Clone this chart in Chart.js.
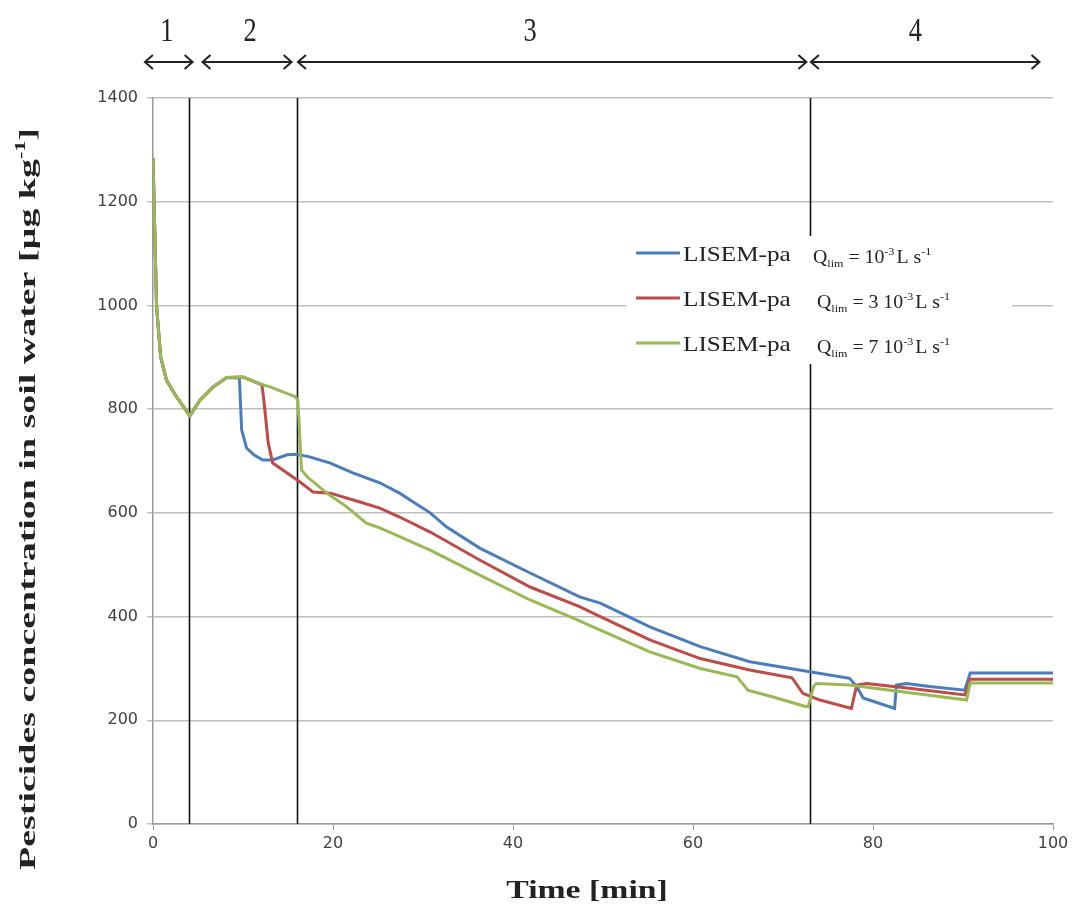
<!DOCTYPE html>
<html>
<head>
<meta charset="utf-8">
<script src="https://cdn.jsdelivr.net/npm/chart.js@4.4.1/dist/chart.umd.min.js"></script>
<style>
html,body{margin:0;padding:0;background:#fff}
#c{display:block}
</style>
</head>
<body>
<canvas id="c" width="1074" height="913"></canvas>
<script>
// shared start of all three runs (curves overlap until ~9 min)
const startTime = [0, 0.2, 0.4, 0.85, 1.5, 2.6, 4.1, 5.2, 6.7, 8.2];
const startConc = [1284, 1140, 997, 901, 856, 824, 787, 817, 843, 861];

// Qlim = 1e-3 L/s
const timeQ1 = [9.6, 9.75, 9.85, 10.4, 11.2, 12.2, 13.3, 14.9, 16, 17.4, 19.7, 22.2, 25.2, 27.4, 29, 30.8, 32.6, 36.3, 41.9, 47.4, 49.7, 55.2, 60.8, 66.3, 72.8, 77.4, 78.2, 78.9, 82.4, 82.6, 83.7, 86.3, 90.2, 90.8, 100];
const concQ1 = [860, 800, 760, 725, 712, 702, 702, 712, 713, 708, 696, 677, 658, 638, 620, 600, 573, 532, 484, 438, 426, 380, 342, 313, 294, 281, 265, 243, 223, 268, 271, 265, 258, 291, 291];

// Qlim = 3e-3 L/s
const timeQ3 = [10, 12.1, 12.3, 12.8, 13.3, 14.9, 16.3, 17.8, 19.7, 23, 25.2, 27.4, 30.8, 36.3, 41.9, 47.4, 49.7, 55.2, 60.8, 66.3, 71, 72.2, 74.1, 77.6, 78.2, 79.3, 84.5, 90.2, 90.8, 100];
const concQ3 = [862, 847, 820, 735, 696, 677, 660, 640, 638, 621, 609, 592, 563, 509, 457, 419, 400, 355, 319, 297, 282, 252, 239, 223, 268, 271, 261, 249, 279, 279];

// Qlim = 7e-3 L/s
const timeQ7 = [10, 12.2, 13, 15.8, 16.1, 16.5, 17.1, 19.3, 21.5, 23.7, 25.2, 27.4, 30.8, 36.3, 41.9, 46.7, 49.7, 55.2, 60.8, 64.9, 66.1, 68.9, 72.4, 72.8, 73.4, 73.7, 77.4, 84.5, 90.4, 90.8, 100];
const concQ7 = [862, 847, 843, 824, 817, 683, 670, 638, 612, 580, 571, 554, 528, 480, 432, 397, 374, 332, 300, 284, 258, 245, 227, 226, 265, 271, 268, 252, 239, 272, 272];

// phases
const phaseBounds = [4, 16, 73];
const phaseLabels = ['1', '2', '3', '4'];
const phaseLabelAt = [1.55, 10.8, 41.9, 84.7];
const arrowFrom = [-0.9, 5.5, 16.1, 73.1];
const arrowTo = [4.4, 15.4, 72.6, 98.5];

const seriesName = 'LISEM-pa';
const qCoef = ['', '3 ', '7 '];

const BLUE = '#4a7ebb', RED = '#be4b48', GREEN = '#98b954';

function pts(t, v){ return startTime.concat(t).map((x, i)=>({x, y: startConc.concat(v)[i]})) }

function stretchText(ctx, txt, x, y, sx, align){
  ctx.save(); ctx.translate(x, y); ctx.scale(sx, 1);
  ctx.textAlign = align || 'left'; ctx.fillText(txt, 0, 0);
  ctx.restore();
}

const decor = {
  id: 'decor',
  beforeDatasetsDraw(chart){
    const {ctx, chartArea: a, scales: {x}} = chart;
    ctx.save();
    ctx.strokeStyle = '#111'; ctx.lineWidth = 1.6;
    phaseBounds.forEach(b=>{
      const px = Math.round(x.getPixelForValue(b)) + 0.5;
      ctx.beginPath(); ctx.moveTo(px, a.top); ctx.lineTo(px, a.bottom); ctx.stroke();
    });
    ctx.restore();
  },
  afterDatasetsDraw(chart){
    const {ctx, chartArea: a} = chart;
    const cols = [BLUE, RED, GREEN];
    const L = a.left + 473, T = a.top + 138;
    ctx.save();
    ctx.fillStyle = '#fff';
    ctx.fillRect(L, T, 386, 128);
    const rows = [T + 17, T + 62, T + 107];
    rows.forEach((ry, i)=>{
      ctx.strokeStyle = cols[i]; ctx.lineWidth = 3;
      ctx.beginPath(); ctx.moveTo(L + 10, ry); ctx.lineTo(L + 54, ry); ctx.stroke();
      ctx.fillStyle = '#222';
      ctx.font = '21px "Liberation Serif"'; ctx.textBaseline = 'alphabetic';
      stretchText(ctx, seriesName, L + 57, ry + 8, 1.2);
      // Q_lim = c 10^-3 L s^-1
      const sx = 1.1;
      let cx = L + 187 + (i ? 4 : 0);
      const base = ry + 10;
      const parts = [
        ['Q', 18, 0], ['lim', 11, 4], [' = ' + qCoef[i] + '10', 18, 0],
        ['-3', 11, -8], ['L s', 18, 0], ['-1', 11, -8]
      ];
      parts.forEach(([t, fs, dy])=>{
        ctx.font = fs + 'px "Liberation Serif"';
        stretchText(ctx, t, cx, base + dy, sx);
        cx += ctx.measureText(t).width * sx + (t === '-3' ? 2 : 0);
      });
    });
    ctx.restore();
  },
  afterDraw(chart){
    const {ctx, scales: {x}} = chart;
    ctx.save();
    // phase arrows
    ctx.strokeStyle = '#222'; ctx.lineWidth = 2;
    const ay = 62;
    arrowFrom.forEach((f, i)=>{
      const x1 = x.getPixelForValue(f), x2 = x.getPixelForValue(arrowTo[i]);
      ctx.beginPath();
      ctx.moveTo(x1, ay); ctx.lineTo(x2, ay);
      ctx.moveTo(x1 + 8, ay - 7); ctx.lineTo(x1, ay); ctx.lineTo(x1 + 8, ay + 7);
      ctx.moveTo(x2 - 8, ay - 7); ctx.lineTo(x2, ay); ctx.lineTo(x2 - 8, ay + 7);
      ctx.stroke();
    });
    ctx.fillStyle = '#222';
    ctx.font = '33px "Liberation Serif"'; ctx.textBaseline = 'alphabetic';
    phaseLabels.forEach((l, i)=>{
      stretchText(ctx, l, x.getPixelForValue(phaseLabelAt[i]), 41, 0.8, 'center');
    });
    // axis titles
    ctx.font = 'bold 24px "Liberation Serif"';
    const main = 'Pesticides concentration in soil water [\u00b5g kg';
    const tail = ']';
    ctx.save();
    ctx.translate(35, 499); ctx.rotate(-Math.PI/2);
    const wMain = ctx.measureText(main).width, wTail = ctx.measureText(tail).width;
    ctx.font = 'bold 14px "Liberation Serif"';
    const wSup = ctx.measureText('-1').width;
    const total = wMain + wSup + wTail;
    const k = 742 / total;
    ctx.scale(k, 1);
    let px = -total / 2;
    ctx.font = 'bold 24px "Liberation Serif"'; ctx.textAlign = 'left';
    ctx.fillText(main, px, 0); px += wMain;
    ctx.font = 'bold 14px "Liberation Serif"';
    ctx.fillText('-1', px, -10); px += wSup;
    ctx.font = 'bold 24px "Liberation Serif"';
    ctx.fillText(tail, px, 0);
    ctx.restore();
    ctx.font = 'bold 25px "Liberation Serif"';
    stretchText(ctx, 'Time [min]', 587, 898, 1.35, 'center');
    ctx.restore();
  }
};

const tickFont = {family: '"DejaVu Sans"', size: 16};

new Chart(document.getElementById('c'), {
  type: 'line',
  data: {
    datasets: [
      {label: 'Qlim 7', data: pts(timeQ7, concQ7), borderColor: GREEN, order: 0},
      {label: 'Qlim 3', data: pts(timeQ3, concQ3), borderColor: RED, order: 1},
      {label: 'Qlim 1', data: pts(timeQ1, concQ1), borderColor: BLUE, order: 2}
    ]
  },
  options: {
    responsive: false,
    animation: false,
    layout: {padding: {left: 0, top: 98, right: 21, bottom: 0}},
    elements: {point: {radius: 0}, line: {tension: 0, borderWidth: 3, fill: false}},
    plugins: {legend: {display: false}, tooltip: {enabled: false}},
    scales: {
      x: {
        type: 'linear', min: 0, max: 100,
        ticks: {stepSize: 20, font: tickFont, color: '#404040', padding: 4, callback: v => String(v)},
        grid: {drawOnChartArea: false, drawTicks: true, tickLength: 6, color: '#999'},
        border: {color: '#999', width: 1.5},
        afterFit(s){ s.height = 89 }
      },
      y: {
        min: 0, max: 1400,
        ticks: {stepSize: 200, font: tickFont, color: '#404040', padding: 9, callback: v => String(v)},
        grid: {color: '#bfbfbf', lineWidth: 1.5, tickLength: 6},
        border: {color: '#999', width: 1.5},
        afterFit(s){ s.width = 153 }
      }
    }
  },
  plugins: [decor]
});
</script>
</body>
</html>
